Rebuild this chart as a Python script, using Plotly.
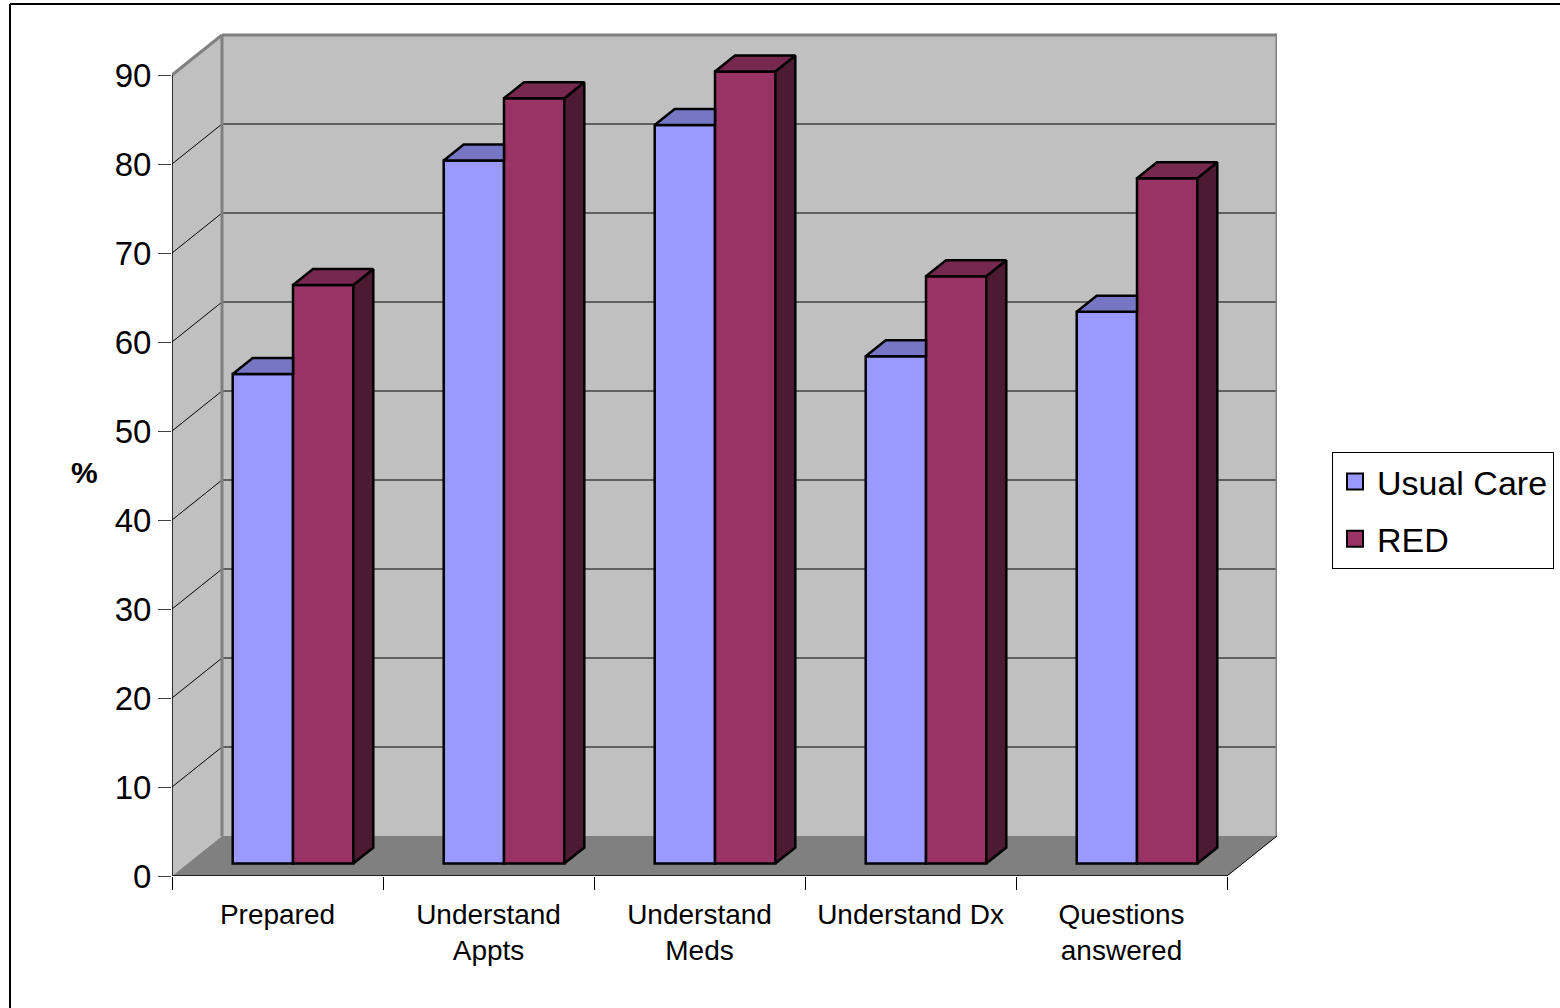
import plotly.graph_objects as go

# ---------------- data ----------------
categories = ["Prepared", "Understand<br>Appts", "Understand<br>Meds", "Understand Dx", "Questions<br>answered"]
usual_care = [55, 79, 83, 57, 62]
red = [65, 86, 89, 66, 77]
series_names = ["Usual Care", "RED"]
y_ticks = [0, 10, 20, 30, 40, 50, 60, 70, 80, 90]

# ---------------- geometry / style ----------------
FIG_W, FIG_H = 1560, 1008
L_PX, R_PX, T_PX, B_PX = 172, 1277, 33, 876
PW, PH = R_PX - L_PX, B_PX - T_PX
CAT_PX = 211.0          # px per category
Y_PX = 8.9              # px per value unit
DX = 50 / CAT_PX        # depth offset in x units
DY = 40 / Y_PX          # depth offset in y units
N = len(categories)
XMAX = PW / CAT_PX
YMAX = PH / Y_PX
WALL_TOP = 90

BAR_W = 1 / 3.5
F0, F1 = 0.31, 0.71
BD = F1 - F0
BASE = F0 * DY

UC_FRONT, UC_TOP = "#9999FF", "#7676C4"
RED_FRONT, RED_TOP, RED_SIDE = "#993366", "#77284F", "#4D1A33"
WALL, FLOOR, EDGE = "#C0C0C0", "#808080", "#808080"
FONT = "Liberation Sans, Arial, sans-serif"


def px2x(px):
    return (px - L_PX) / PW


def py2y(py):
    return (B_PX - py) / PH


fig = go.Figure()

# front faces as bars
uc_x = [i + 0.5 - BAR_W / 2 + F0 * DX for i in range(N)]
red_x = [i + 0.5 + BAR_W / 2 + F0 * DX for i in range(N)]
fig.add_trace(go.Bar(x=uc_x, y=usual_care, base=BASE, width=BAR_W, name=series_names[0],
                     marker=dict(color=UC_FRONT, line=dict(color="black", width=2.5)),
                     showlegend=False, hoverinfo="skip"))
fig.add_trace(go.Bar(x=red_x, y=red, base=BASE, width=BAR_W, name=series_names[1],
                     marker=dict(color=RED_FRONT, line=dict(color="black", width=2.5)),
                     showlegend=False, hoverinfo="skip"))

# top / side faces
ux, uy = [], []
for i, v in enumerate(usual_care):
    xl = uc_x[i] - BAR_W / 2
    xr = uc_x[i] + BAR_W / 2
    h = BASE + v
    ux += [xl, xr, xr, xl + BD * DX, xl, None]
    uy += [h, h, h + BD * DY, h + BD * DY, h, None]
fig.add_trace(go.Scatter(x=ux, y=uy, mode="lines", fill="toself", fillcolor=UC_TOP,
                         line=dict(color="black", width=2.5), showlegend=False,
                         hoverinfo="skip", cliponaxis=False))

tx, ty, sx, sy = [], [], [], []
for i, v in enumerate(red):
    xl = red_x[i] - BAR_W / 2
    xr = red_x[i] + BAR_W / 2
    h = BASE + v
    tx += [xl, xr, xr + BD * DX, xl + BD * DX, xl, None]
    ty += [h, h, h + BD * DY, h + BD * DY, h, None]
    sx += [xr, xr, xr + BD * DX, xr + BD * DX, xr, None]
    sy += [BASE, h, h + BD * DY, BASE + BD * DY, BASE, None]
fig.add_trace(go.Scatter(x=sx, y=sy, mode="lines", fill="toself", fillcolor=RED_SIDE,
                         line=dict(color="black", width=2.5), showlegend=False,
                         hoverinfo="skip", cliponaxis=False))
fig.add_trace(go.Scatter(x=tx, y=ty, mode="lines", fill="toself", fillcolor=RED_TOP,
                         line=dict(color="black", width=2.5), showlegend=False,
                         hoverinfo="skip", cliponaxis=False))

# legend entries
for name, col in zip(series_names, [UC_FRONT, RED_FRONT]):
    fig.add_trace(go.Scatter(x=[None], y=[None], mode="markers", name=name, legendgroup=name,
                             marker=dict(symbol="square", size=16, color=col,
                                         line=dict(color="black", width=2))))

# ---------------- walls, floor, grid ----------------
shapes = []
shapes.append(dict(type="path", xref="x", yref="y", layer="below",
                   path=f"M0,0 L0,{WALL_TOP} L{DX},{WALL_TOP + DY} L{DX},{DY} Z",
                   fillcolor=WALL, line=dict(width=0)))
shapes.append(dict(type="rect", xref="x", yref="y", layer="below",
                   x0=DX, x1=N + DX, y0=DY, y1=WALL_TOP + DY,
                   fillcolor=WALL, line=dict(width=0)))
shapes.append(dict(type="path", xref="x", yref="y", layer="below",
                   path=f"M0,0 L{N},0 L{N + DX},{DY} L{DX},{DY} Z",
                   fillcolor=FLOOR, line=dict(width=0)))
for v in y_ticks[1:-1]:
    shapes.append(dict(type="line", xref="x", yref="y", layer="below",
                       x0=DX, x1=N + DX, y0=v + DY, y1=v + DY,
                       line=dict(color="black", width=1)))
    shapes.append(dict(type="line", xref="x", yref="y", layer="below",
                       x0=0, x1=DX, y0=v, y1=v + DY,
                       line=dict(color="black", width=1)))
for (x0, y0, x1, y1) in [(0, WALL_TOP, DX, WALL_TOP + DY),
                         (DX, WALL_TOP + DY, N + DX, WALL_TOP + DY),
                         (DX, DY, DX, WALL_TOP + DY),
                         (N + DX, DY, N + DX, WALL_TOP + DY)]:
    shapes.append(dict(type="line", xref="x", yref="y", layer="below",
                       x0=x0, y0=y0, x1=x1, y1=y1, line=dict(color=EDGE, width=3)))
shapes.append(dict(type="line", xref="x", yref="y", layer="below",
                   x0=N, y0=0, x1=N + DX, y1=DY, line=dict(color="black", width=1)))
shapes.append(dict(type="line", xref="x", yref="y", layer="below",
                   x0=0, y0=0, x1=0, y1=WALL_TOP, line=dict(color="black", width=1.5)))
shapes.append(dict(type="line", xref="x", yref="y", layer="below",
                   x0=0, y0=0, x1=N, y1=0, line=dict(color="black", width=1.5)))
# outer chart frame
shapes.append(dict(type="line", xref="paper", yref="paper", layer="above",
                   x0=px2x(10), y0=py2y(4), x1=px2x(FIG_W + 5), y1=py2y(4),
                   line=dict(color="black", width=2)))
shapes.append(dict(type="line", xref="paper", yref="paper", layer="above",
                   x0=px2x(10), y0=py2y(4), x1=px2x(10), y1=py2y(FIG_H + 5),
                   line=dict(color="black", width=2)))

fig.update_layout(
    width=FIG_W, height=FIG_H,
    margin=dict(l=L_PX, r=FIG_W - R_PX, t=T_PX, b=FIG_H - B_PX, autoexpand=False),
    paper_bgcolor="white", plot_bgcolor="white",
    barmode="overlay",
    font=dict(family=FONT, color="black"),
    shapes=shapes,
    xaxis=dict(range=[0, XMAX], tickvals=[i + 0.5 for i in range(N)], ticktext=categories,
               ticks="outside", ticklen=13, tickcolor="rgba(0,0,0,0)",
               minor=dict(tickvals=list(range(N + 1)), ticks="outside", ticklen=13,
                          tickcolor="black", tickwidth=1),
               showgrid=False, zeroline=False, showline=False,
               tickfont=dict(size=28, family=FONT, color="black"), fixedrange=True),
    yaxis=dict(range=[0, YMAX], tickvals=y_ticks, ticks="outside", ticklen=13,
               tickcolor="#404040", tickwidth=1,
               showgrid=False, zeroline=False, showline=False,
               tickfont=dict(size=33, family=FONT, color="black"), fixedrange=True),
    legend=dict(x=px2x(1332), y=py2y(452), xanchor="left", yanchor="top",
                bgcolor="white", bordercolor="black", borderwidth=1,
                tracegroupgap=10, itemwidth=34,
                font=dict(size=34, family=FONT, color="black")),
    annotations=[dict(text="<b>%</b>", xref="paper", yref="paper", x=px2x(84), y=py2y(472),
                      showarrow=False, font=dict(size=30, family=FONT, color="black"),
                      xanchor="center", yanchor="middle")],
)

fig.write_html("out.html")
